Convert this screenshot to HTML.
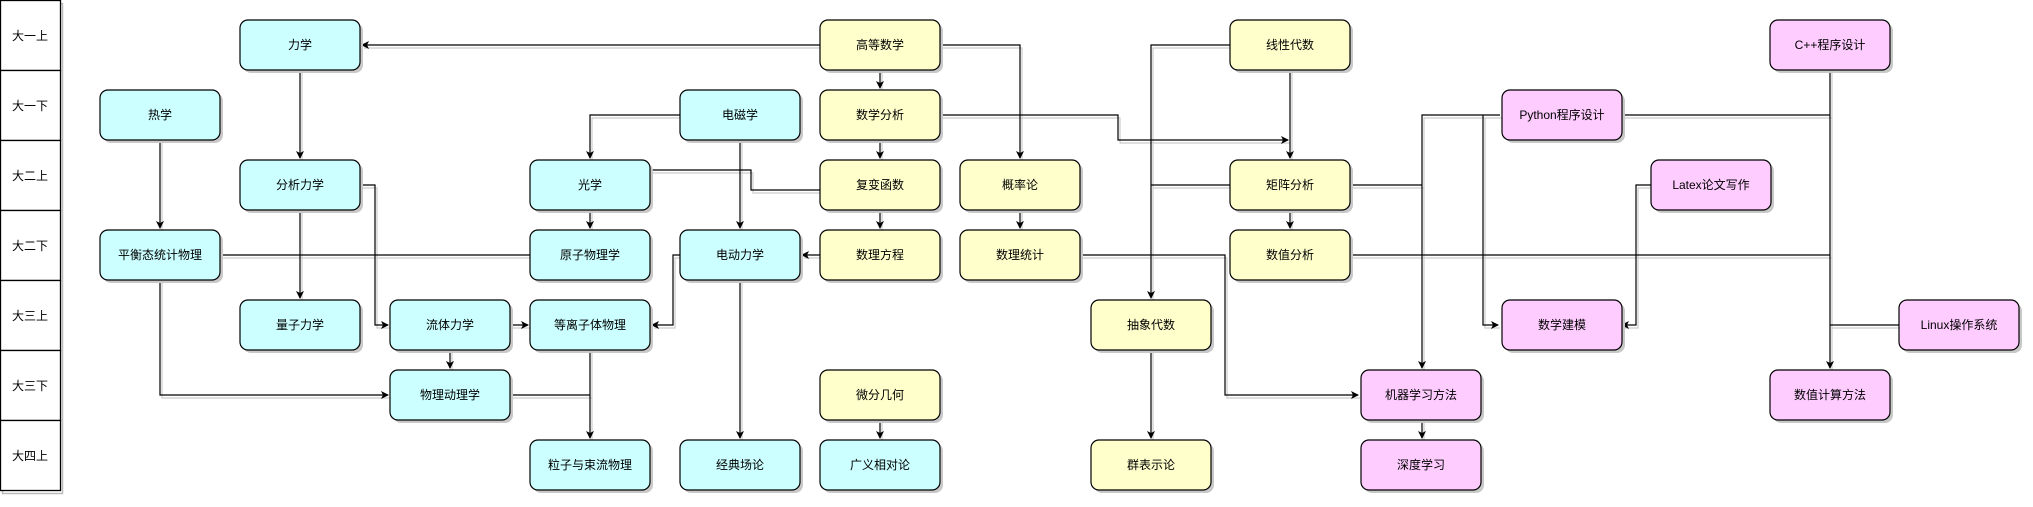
<!DOCTYPE html>
<html><head><meta charset="utf-8"><style>
html,body{margin:0;padding:0;background:#fff;}
svg{display:block;}
text{font-family:"Liberation Sans","Noto Sans CJK SC",sans-serif;font-size:12px;fill:#000;}
</style></head><body>
<svg width="2033" height="507" viewBox="0 0 2033 507" xmlns="http://www.w3.org/2000/svg">
<defs>
<marker id="a" markerWidth="10" markerHeight="10" refX="8" refY="5" orient="auto" markerUnits="userSpaceOnUse">
<path d="M1,1 L9,5 L1,9 L3,5 Z" fill="#000"/>
</marker>
</defs>

<g stroke="#bbb" stroke-width="1.5" fill="none" transform="translate(2,3)">
<rect x="0.5" y="0.5" width="60" height="490"/>
</g>
<g stroke="#000" stroke-width="1.3" fill="#fff">
<rect x="0.5" y="0.5" width="60" height="70"/><rect x="0.5" y="70.5" width="60" height="70"/>
<rect x="0.5" y="140.5" width="60" height="70"/><rect x="0.5" y="210.5" width="60" height="70"/>
<rect x="0.5" y="280.5" width="60" height="70"/><rect x="0.5" y="350.5" width="60" height="70"/>
<rect x="0.5" y="420.5" width="60" height="70"/>
</g>
<g text-anchor="middle">
<text x="30" y="40">大一上</text><text x="30" y="110">大一下</text><text x="30" y="180">大二上</text>
<text x="30" y="250">大二下</text><text x="30" y="320">大三上</text><text x="30" y="390">大三下</text>
<text x="30" y="460">大四上</text>
</g>

<g fill="none" stroke-width="1.2">
<g stroke="#ccc" transform="translate(2,3)">
<path d="M820,45 H362"/><path d="M880,70 V88"/><path d="M940,45 H1020 V158"/><path d="M1020,210 V228"/>
<path d="M880,140 V158"/><path d="M880,210 V228"/>
<path d="M940,115 H1118 V140 H1288"/><path d="M1290,70 V158"/>
<path d="M1230,45 H1151 V298"/><path d="M1230,185 H1151"/><path d="M1290,210 V228"/>
<path d="M1350,185 H1422"/><path d="M1500,115 H1422 V368"/><path d="M1483,115 V325 H1498"/>
<path d="M1620,115 H1830"/><path d="M1830,70 V368"/><path d="M1350,255 H1830"/><path d="M1899,325 H1830"/>
<path d="M1651,185 H1636 V325 H1622"/><path d="M1080,255 H1225 V395 H1358"/>
<path d="M1151,350 V438"/><path d="M1422,420 V438"/><path d="M880,420 V438"/>
<path d="M820,255 H802"/><path d="M680,115 H590 V158"/><path d="M740,140 V228"/>
<path d="M650,170 H751 V190 H820"/><path d="M590,210 V228"/><path d="M530,255 H220"/>
<path d="M680,255 H673 V325 H652"/><path d="M740,280 V438"/><path d="M300,70 V158"/><path d="M300,210 V298"/>
<path d="M360,185 H375 V325 H388"/><path d="M510,325 H528"/><path d="M450,350 V368"/>
<path d="M160,140 V228"/><path d="M160,280 V395 H388"/><path d="M510,395 H590"/><path d="M590,350 V438"/>
</g>
<g stroke="#000">
<path d="M820,45 H362" marker-end="url(#a)"/><path d="M880,70 V88" marker-end="url(#a)"/><path d="M940,45 H1020 V158" marker-end="url(#a)"/><path d="M1020,210 V228" marker-end="url(#a)"/>
<path d="M880,140 V158" marker-end="url(#a)"/><path d="M880,210 V228" marker-end="url(#a)"/>
<path d="M940,115 H1118 V140 H1288" marker-end="url(#a)"/><path d="M1290,70 V158" marker-end="url(#a)"/>
<path d="M1230,45 H1151 V298" marker-end="url(#a)"/><path d="M1230,185 H1151"/><path d="M1290,210 V228" marker-end="url(#a)"/>
<path d="M1350,185 H1422"/><path d="M1500,115 H1422 V368" marker-end="url(#a)"/><path d="M1483,115 V325 H1498" marker-end="url(#a)"/>
<path d="M1620,115 H1830"/><path d="M1830,70 V368" marker-end="url(#a)"/><path d="M1350,255 H1830"/><path d="M1899,325 H1830"/>
<path d="M1651,185 H1636 V325 H1622" marker-end="url(#a)"/><path d="M1080,255 H1225 V395 H1358" marker-end="url(#a)"/>
<path d="M1151,350 V438" marker-end="url(#a)"/><path d="M1422,420 V438" marker-end="url(#a)"/><path d="M880,420 V438" marker-end="url(#a)"/>
<path d="M820,255 H802" marker-end="url(#a)"/><path d="M680,115 H590 V158" marker-end="url(#a)"/><path d="M740,140 V228" marker-end="url(#a)"/>
<path d="M650,170 H751 V190 H820"/><path d="M590,210 V228" marker-end="url(#a)"/><path d="M530,255 H220"/>
<path d="M680,255 H673 V325 H652" marker-end="url(#a)"/><path d="M740,280 V438" marker-end="url(#a)"/><path d="M300,70 V158" marker-end="url(#a)"/><path d="M300,210 V298" marker-end="url(#a)"/>
<path d="M360,185 H375 V325 H388" marker-end="url(#a)"/><path d="M510,325 H528" marker-end="url(#a)"/><path d="M450,350 V368" marker-end="url(#a)"/>
<path d="M160,140 V228" marker-end="url(#a)"/><path d="M160,280 V395 H388" marker-end="url(#a)"/><path d="M510,395 H590"/><path d="M590,350 V438" marker-end="url(#a)"/>
</g>
</g>

<g stroke="#000" stroke-width="1.2">
<g fill="#c8c8c8" stroke="none" transform="translate(3,3)">
<rect x="240" y="20" width="120" height="50" rx="8"/><rect x="100" y="90" width="120" height="50" rx="8"/>
<rect x="680" y="90" width="120" height="50" rx="8"/><rect x="240" y="160" width="120" height="50" rx="8"/>
<rect x="530" y="160" width="120" height="50" rx="8"/><rect x="100" y="230" width="120" height="50" rx="8"/>
<rect x="530" y="230" width="120" height="50" rx="8"/><rect x="680" y="230" width="120" height="50" rx="8"/>
<rect x="240" y="300" width="120" height="50" rx="8"/><rect x="390" y="300" width="120" height="50" rx="8"/>
<rect x="530" y="300" width="120" height="50" rx="8"/><rect x="390" y="370" width="120" height="50" rx="8"/>
<rect x="530" y="440" width="120" height="50" rx="8"/><rect x="680" y="440" width="120" height="50" rx="8"/>
<rect x="820" y="440" width="120" height="50" rx="8"/>
<rect x="820" y="20" width="120" height="50" rx="8"/><rect x="820" y="90" width="120" height="50" rx="8"/>
<rect x="820" y="160" width="120" height="50" rx="8"/><rect x="820" y="230" width="120" height="50" rx="8"/>
<rect x="960" y="160" width="120" height="50" rx="8"/><rect x="960" y="230" width="120" height="50" rx="8"/>
<rect x="820" y="370" width="120" height="50" rx="8"/><rect x="1230" y="20" width="120" height="50" rx="8"/>
<rect x="1230" y="160" width="120" height="50" rx="8"/><rect x="1230" y="230" width="120" height="50" rx="8"/>
<rect x="1091" y="300" width="120" height="50" rx="8"/><rect x="1091" y="440" width="120" height="50" rx="8"/>
<rect x="1770" y="20" width="120" height="50" rx="8"/><rect x="1502" y="90" width="120" height="50" rx="8"/>
<rect x="1651" y="160" width="120" height="50" rx="8"/><rect x="1502" y="300" width="120" height="50" rx="8"/>
<rect x="1899" y="300" width="120" height="50" rx="8"/><rect x="1361" y="370" width="120" height="50" rx="8"/>
<rect x="1361" y="440" width="120" height="50" rx="8"/><rect x="1770" y="370" width="120" height="50" rx="8"/>
</g>
<g fill="#ccffff">
<rect x="240" y="20" width="120" height="50" rx="8"/><rect x="100" y="90" width="120" height="50" rx="8"/>
<rect x="680" y="90" width="120" height="50" rx="8"/><rect x="240" y="160" width="120" height="50" rx="8"/>
<rect x="530" y="160" width="120" height="50" rx="8"/><rect x="100" y="230" width="120" height="50" rx="8"/>
<rect x="530" y="230" width="120" height="50" rx="8"/><rect x="680" y="230" width="120" height="50" rx="8"/>
<rect x="240" y="300" width="120" height="50" rx="8"/><rect x="390" y="300" width="120" height="50" rx="8"/>
<rect x="530" y="300" width="120" height="50" rx="8"/><rect x="390" y="370" width="120" height="50" rx="8"/>
<rect x="530" y="440" width="120" height="50" rx="8"/><rect x="680" y="440" width="120" height="50" rx="8"/>
<rect x="820" y="440" width="120" height="50" rx="8"/>
</g>
<g fill="#ffffcc">
<rect x="820" y="20" width="120" height="50" rx="8"/><rect x="820" y="90" width="120" height="50" rx="8"/>
<rect x="820" y="160" width="120" height="50" rx="8"/><rect x="820" y="230" width="120" height="50" rx="8"/>
<rect x="960" y="160" width="120" height="50" rx="8"/><rect x="960" y="230" width="120" height="50" rx="8"/>
<rect x="820" y="370" width="120" height="50" rx="8"/><rect x="1230" y="20" width="120" height="50" rx="8"/>
<rect x="1230" y="160" width="120" height="50" rx="8"/><rect x="1230" y="230" width="120" height="50" rx="8"/>
<rect x="1091" y="300" width="120" height="50" rx="8"/><rect x="1091" y="440" width="120" height="50" rx="8"/>
</g>
<g fill="#ffccff">
<rect x="1770" y="20" width="120" height="50" rx="8"/><rect x="1502" y="90" width="120" height="50" rx="8"/>
<rect x="1651" y="160" width="120" height="50" rx="8"/><rect x="1502" y="300" width="120" height="50" rx="8"/>
<rect x="1899" y="300" width="120" height="50" rx="8"/><rect x="1361" y="370" width="120" height="50" rx="8"/>
<rect x="1361" y="440" width="120" height="50" rx="8"/><rect x="1770" y="370" width="120" height="50" rx="8"/>
</g>
</g>
<g text-anchor="middle">
<text x="300" y="49">力学</text><text x="160" y="119">热学</text><text x="740" y="119">电磁学</text>
<text x="300" y="189">分析力学</text><text x="590" y="189">光学</text><text x="160" y="259">平衡态统计物理</text>
<text x="590" y="259">原子物理学</text><text x="740" y="259">电动力学</text><text x="300" y="329">量子力学</text>
<text x="450" y="329">流体力学</text><text x="590" y="329">等离子体物理</text><text x="450" y="399">物理动理学</text>
<text x="590" y="469">粒子与束流物理</text><text x="740" y="469">经典场论</text><text x="880" y="469">广义相对论</text>
<text x="880" y="49">高等数学</text><text x="880" y="119">数学分析</text><text x="880" y="189">复变函数</text>
<text x="880" y="259">数理方程</text><text x="1020" y="189">概率论</text><text x="1020" y="259">数理统计</text>
<text x="880" y="399">微分几何</text><text x="1290" y="49">线性代数</text><text x="1290" y="189">矩阵分析</text>
<text x="1290" y="259">数值分析</text><text x="1151" y="329">抽象代数</text><text x="1151" y="469">群表示论</text>
<text x="1830" y="49">C++程序设计</text><text x="1562" y="119">Python程序设计</text><text x="1711" y="189">Latex论文写作</text>
<text x="1562" y="329">数学建模</text><text x="1959" y="329">Linux操作系统</text><text x="1421" y="399">机器学习方法</text>
<text x="1421" y="469">深度学习</text><text x="1830" y="399">数值计算方法</text>
</g>
</svg>
</body></html>
